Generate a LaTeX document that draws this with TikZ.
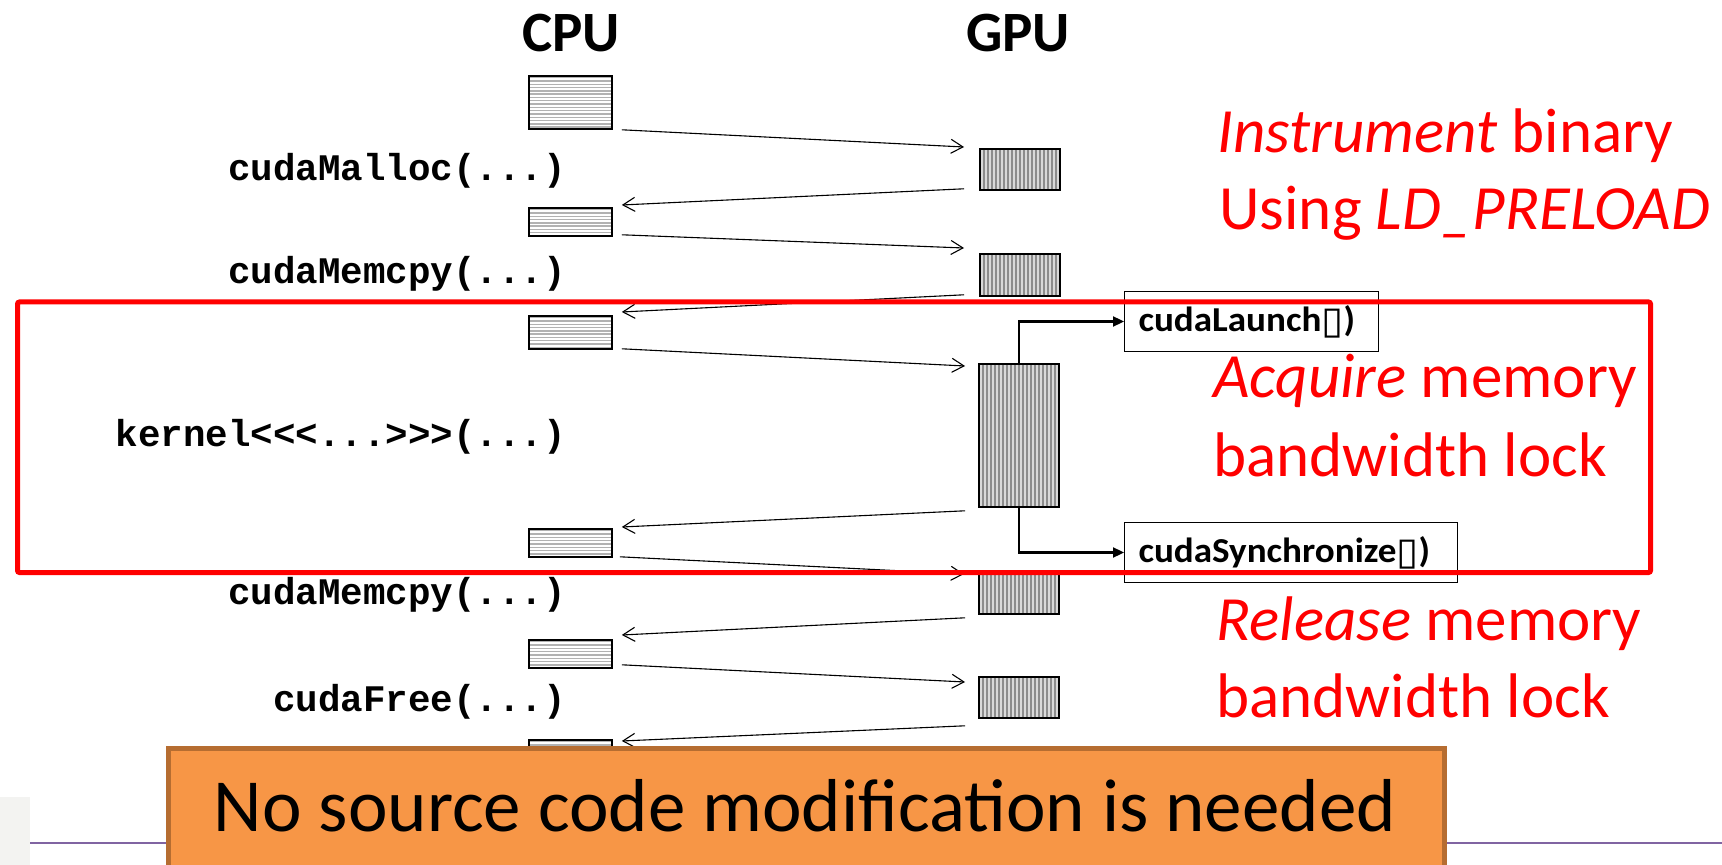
\documentclass[tikz,border=0pt]{standalone}
\usepackage{fontspec}
\usepackage{graphicx}
\setmainfont{Carlito}
\newfontfamily\codefont{Liberation Mono}
\newfontfamily\symfont{DejaVu Sans}
\usetikzlibrary{arrows.meta,calc}
\definecolor{orangefill}{HTML}{F79646}
\definecolor{orangeedge}{HTML}{B66D31}
\definecolor{purpleline}{HTML}{8064A2}
\definecolor{logogray}{HTML}{F3F3F1}
\newcommand{\tofu}{{\symfont\fontsize{19}{20}\selectfont\raisebox{-1pt}{▯}}}
\begin{document}
\begin{tikzpicture}[x=0.5pt,y=-0.5pt,
  cpubox/.style={draw=black,line width=0.9pt,fill=white,inner sep=0,anchor=north west,minimum width=41.5pt,
    path picture={\foreach \k in {0,...,20}{\draw[gray!60,line width=0.7pt] ([yshift=-0.9pt-\k*1.65pt]path picture bounding box.north west) -- ([yshift=-0.9pt-\k*1.65pt]path picture bounding box.north east);}}},
  gpubox/.style={draw=black,line width=0.9pt,fill=black!45,inner sep=0,anchor=north west,minimum width=40pt,
    path picture={\foreach \k in {0,...,21}{\draw[black!15,line width=0.6pt] ([xshift=1pt+\k*2pt]path picture bounding box.north west) -- ([xshift=1pt+\k*2pt]path picture bounding box.south west);}}},
  code/.style={font=\codefont\bfseries\fontsize{18.75}{20}\selectfont,anchor=base east,inner sep=0},
  head/.style={font=\bfseries\fontsize{28.5}{30}\selectfont,anchor=base,inner sep=0},
  note/.style={text=red,font=\fontsize{31.5}{36}\selectfont,anchor=base west,inner sep=0},
  callbox/.style={draw=black,line width=0.5pt,font=\bfseries\fontsize{17.5}{19}\selectfont,anchor=north west,
    minimum height=30pt,inner xsep=7pt,inner ysep=0,align=left},
  conn/.style={line width=0.55pt,-{Straight Barb[length=6pt,width=7pt]}},
  pipe/.style={line width=1.1pt,-{Triangle[length=5.5pt,width=5pt]}}
]
\useasboundingbox (0,0) rectangle (1722,865);

% footer line and logo area
\coordinate (fl) at (30,843);
\coordinate (fr) at (1722,843);
\draw[purpleline,line width=1.2pt] (fl) -- (fr);
\fill[logogray] (0,797) rectangle (30,865);

% headings
\node[head] (cpu) at (571,52) {CPU};
\node[head] (gpu) at (1018,52) {GPU};

% code labels
\node[code] (malloc) at (566,181) {cudaMalloc(...)};
\node[code] (memcpyA) at (566,284) {cudaMemcpy(...)};
\node[code] (kernel) at (566,447) {kernel<<<...>>>(...)};
\node[code] (memcpyB) at (566,604) {cudaMemcpy(...)};
\node[code] (free) at (566,711) {cudaFree(...)};

% CPU boxes
\node[cpubox,minimum height=26.5pt] (C1) at (528,75) {};
\node[cpubox,minimum height=14pt] (C2) at (528,207) {};
\node[cpubox,minimum height=16.5pt] (C3) at (528,315) {};
\node[cpubox,minimum height=14pt] (C4) at (528,528) {};
\node[cpubox,minimum height=14pt] (C5) at (528,639) {};
\node[cpubox,minimum height=14pt] (C6) at (528,739) {};

% GPU boxes
\node[gpubox,minimum height=20.5pt] (G1) at (979,148) {};
\node[gpubox,minimum height=21pt] (G2) at (979,253) {};
\node[gpubox,minimum height=71.5pt] (G3) at (978,363) {};
\node[gpubox,minimum height=21pt] (G4) at (978,571) {};
\node[gpubox,minimum height=20.5pt] (G5) at (978,676) {};

% transfers
\draw[conn] ($(C1.south east)+(9,0)$) -- ($(G1.north west)+(-15,-1)$);
\draw[conn] ($(G1.south west)+(-15,-2)$) -- ($(C2.north east)+(9,-2)$);
\draw[conn] ($(C2.south east)+(9,-2)$) -- ($(G2.north west)+(-15,-5)$);
\draw[conn] ($(G2.south west)+(-15,-2)$) -- ($(C3.north east)+(9,-3)$);
\draw[conn] ($(C3.south east)+(9,-1)$) -- ($(G3.north west)+(-13,3)$);
\draw[conn] ($(G3.south west)+(-13,3)$) -- ($(C4.north east)+(9,-1)$);
\draw[conn] ($(C4.south east)+(7,-1)$) -- ($(G4.north west)+(-14,3)$);
\draw[conn] ($(G4.south west)+(-13,3)$) -- ($(C5.north east)+(9,-4)$);
\draw[conn] ($(C5.south east)+(9,-4)$) -- ($(G5.north west)+(-13,6)$);
\draw[conn] ($(G5.south west)+(-13,7)$) -- ($(C6.north east)+(9,2)$);

% intercepted calls
\node[callbox,text width=113pt] (L) at (1124,291) {\scalebox{1.06}[1]{cudaLaunch\tofu)}};
\node[callbox,text width=152.5pt] (S) at (1124,522) {\scalebox{1.06}[1]{cudaSynchronize\tofu)}};
\draw[pipe] (G3.north) |- (L.west);
\draw[pipe] (G3.south) |- (S.west);

% red notes
\node[note] (n1) at (1217,153) {\textit{Instrument} binary};
\node[note] (n2) at (1219,230) {Using \textit{LD\_PRELOAD}};
\node[note] (n3) at (1213,398) {\textit{Acquire} memory};
\node[note] (n4) at (1213,476) {bandwidth lock};
\node[note] (n5) at (1216,640) {\textit{Release} memory};
\node[note] (n6) at (1216,717) {bandwidth lock};

% highlight frame
\node[draw=red,line width=2.5pt,rounded corners=1pt,anchor=north west,inner sep=0,
  minimum width=816.5pt,minimum height=135.25pt] (hl) at (15,299.5) {};

% banner
\node[fill=orangefill,draw=orangeedge,line width=2.5pt,anchor=north west,inner sep=0,
  minimum width=638pt,minimum height=67pt] (banner) at (165.5,745.5) {};
\node[font=\fontsize{37.5}{40}\selectfont,anchor=base,inner sep=0] (bannertext) at (805,831) {No source code modification is needed};
\end{tikzpicture}
\end{document}
